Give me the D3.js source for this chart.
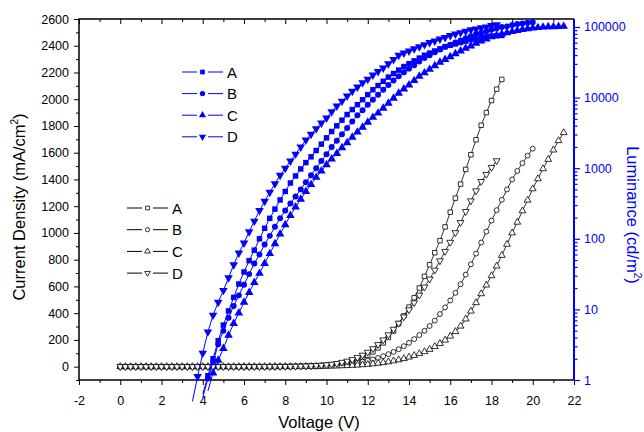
<!DOCTYPE html>
<html lang="en">
<head>
<meta charset="UTF-8" />
<title>Current density and luminance vs voltage</title>
<style>
  body { margin: 0; background: #fff; }
  svg { display: block; font-family: 'Liberation Sans', Arial, sans-serif; }
  .tick text { font-size: 12.5px; }
</style>
</head>
<body>
<svg width="644" height="432"></svg>
<script src="https://d3js.org/d3.v7.min.js"></script>
<script>
// --- data, current density in mA/cm2, luminance in cd/m2
const names = ["A", "B", "C", "D"];

const volts = [0,0.25,0.5,0.75,1,1.25,1.5,1.75,2,2.25,2.5,2.75,3,3.25,3.5,3.75,4,4.25,4.5,4.75,5,5.25,5.5,5.75,
  6,6.25,6.5,6.75,7,7.25,7.5,7.75,8,8.25,8.5,8.75,9,9.25,9.5,9.75,10,10.25,10.5,10.75,11,11.25,11.5,11.75,
  12,12.25,12.5,12.75,13,13.25,13.5,13.75,14,14.25,14.5,14.75,15,15.25,15.5,15.75,16,16.25,16.5,16.75,
  17,17.25,17.5,17.75,18,18.25,18.5,18.75,19,19.25,19.5,19.75,20,20.25,20.5,20.75,21,21.25,21.5];

const curA = [0,0,0,0,0,0,0,0,0,0,0,0,0,0,0,0,0,0,0,0,0,0,0,0,
  0.1,0.15,0.2,0.3,0.4,0.5,0.7,0.9,1.2,1.5,2,2.6,3.4,4.4,5.8,7.5,10,13,17,22,29,38,50,66,
  85,110,140,178,218,266,322,380,445,515,588,675,762,852,942,1045,1155,1260,1365,1475,
  1585,1697,1805,1900,1990,2075,2148];
const curB = [0,0,0,0,0,0,0,0,0,0,0,0,0,0,0,0,0,0,0,0,0,0,0,0,
  0.1,0.1,0.15,0.2,0.3,0.4,0.6,0.8,1,1.3,1.8,2.3,3,3.9,5,6.3,8,10,13,16,20,25,30,37,
  45,54,65,78,93,110,130,153,178,206,236,268,304,344,393,443,495,552,616,688,
  765,845,928,1010,1092,1170,1248,1325,1400,1463,1522,1578,1630];
const curC = [0,0,0,0,0,0,0,0,0,0,0,0,0,0,0,0,0,0,0,0,0,0,0,0,
  0,0,0,0,0.1,0.15,0.2,0.3,0.4,0.5,0.7,0.9,1.2,1.6,2,2.5,3.2,4,5,6.3,7.7,9.5,11.5,14,
  17,21,25,30,36,43,51,60,71,83,97,112,129,150,173,198,228,262,303,356,
  415,478,545,610,680,752,832,915,1000,1080,1165,1245,1330,1405,1480,1550,1620,1690,1750];
const curD = [0,0,0,0,0,0,0,0,0,0,0,0,0,0,0,0,0,0,0,0,0,0,0,0,
  0.1,0.15,0.2,0.3,0.4,0.5,0.7,1,1.3,1.8,2.5,3.3,4.5,6,8,10.5,14,18,24,32,41,53,68,86,
  108,134,165,200,238,280,325,372,425,478,535,595,655,722,792,862,930,1002,1078,1160,
  1240,1315,1385,1438,1490,1540];

const lumVolts = [3.5,3.75,4,4.25,4.5,4.75,5,5.25,5.5,5.75,
  6,6.25,6.5,6.75,7,7.25,7.5,7.75,8,8.25,8.5,8.75,9,9.25,9.5,9.75,10,10.25,10.5,10.75,11,11.25,11.5,11.75,
  12,12.25,12.5,12.75,13,13.25,13.5,13.75,14,14.25,14.5,14.75,15,15.25,15.5,15.75,16,16.25,16.5,16.75,
  17,17.25,17.5,17.75,18,18.25,18.5,18.75,19,19.25,19.5,19.75,20,20.25,20.5,20.75,21,21.25,21.5];

const lumA = [null,null,0.63,1.15,2.0,3.6,6.0,9.5,14.8,22.9,
  33.9,49,69,100,141,195,263,355,468,617,776,977,1200,1450,1780,2190,2690,3310,3980,4790,5750,6760,7940,9330,
  11000,12900,14800,17000,19500,21900,24500,27500,30200,33100,36300,39800,42700,45700,49000,52500,55000,57500,60300,63100,
  66100,67600,70800,72400,74100,75000,75900];
const lumB = [null,null,0.56,1.05,1.8,3.2,5.0,7.6,11.2,15.8,
  22.4,31.6,44.7,60,83,110,148,195,251,316,398,501,631,794,1000,1260,1580,2000,2450,3020,3720,4570,5620,6610,
  7940,9330,11000,12900,15100,17400,20000,22900,25700,28800,32400,36300,39800,43700,47900,52500,56200,60300,64600,69200,
  74100,79400,83200,87100,91200,95500,100000,102000,107000,110000,112000,115000,117000];
const lumC = [null,null,null,0.7,1.26,1.9,2.8,4.3,6.3,8.9,
  12.6,17.4,24,32.4,44.7,61.7,85,117,158,214,282,363,468,589,741,912,1120,1350,1620,1950,2290,2750,3240,3800,
  4470,5250,6030,7080,8320,9770,11500,13200,15100,17400,20000,22400,25100,28200,31600,34700,38000,41700,45700,50100,
  53700,58900,63100,67600,72400,76000,79500,83000,86000,89000,92000,94500,96500,98000,99500,100500,101000,101500,102000];
const lumD = [0.5,1.12,2.4,4.8,8.3,12.6,18.6,28,43,63,
  87,126,178,251,339,457,603,794,1000,1260,1580,2000,2510,3020,3630,4370,5130,6310,7590,8910,10500,12300,14100,16200,
  18200,20900,23400,26300,30200,34700,39800,42700,45700,49000,52500,56200,60300,63100,67600,70800,75900,79400,83200,87100,
  91200,93300,97700,100000,104700,107200];

const xTicks = [-2,0,2,4,6,8,10,12,14,16,18,20,22];
const yLTicks = [0,200,400,600,800,1000,1200,1400,1600,1800,2000,2200,2400,2600];
const yRTicks = [1,10,100,1000,10000,100000];

// --- layout
const svg = d3.select("svg");
const pl = 79, pr = 574, pt = 19, pb = 380;
const blue = "#0000ff";
const fmt = d => String(d);   // plain hyphen for negatives, like the original

const x = d3.scaleLinear().domain([-2, 22]).range([pl, pr]);
const yL = d3.scaleLinear().domain([-100, 2600]).range([pb, pt]);
const yR = d3.scaleLog().domain([1, Math.pow(10, 5.113)]).range([pb, pt]);

const xMinor = d3.range(-1, 22, 2);
const yLMinor = d3.range(-100, 2600, 200);
const yRMinor = [];
yRTicks.forEach(t => { for (let k = 2; k <= 9; k++) if (t * k <= yR.domain()[1]) yRMinor.push(t * k); });

function clean(g) { g.select(".domain").remove(); }

// bottom axis
svg.append("g").attr("transform", `translate(0,${pb})`)
  .call(d3.axisBottom(x).tickValues(xTicks).tickSize(5).tickPadding(11).tickFormat(fmt))
  .call(clean);
svg.append("g").attr("transform", `translate(0,${pb})`)
  .call(d3.axisBottom(x).tickValues(xMinor).tickSize(3).tickFormat(""))
  .call(clean);
// top axis (ticks inside)
svg.append("g").attr("transform", `translate(0,${pt})`)
  .call(d3.axisTop(x).tickValues(xTicks).tickSize(-5).tickFormat(""))
  .call(clean);
svg.append("g").attr("transform", `translate(0,${pt})`)
  .call(d3.axisTop(x).tickValues(xMinor).tickSize(-3).tickFormat(""))
  .call(clean);
// left axis
svg.append("g").attr("transform", `translate(${pl},0)`)
  .call(d3.axisLeft(yL).tickValues(yLTicks).tickSize(5).tickPadding(5).tickFormat(fmt))
  .call(clean);
svg.append("g").attr("transform", `translate(${pl},0)`)
  .call(d3.axisLeft(yL).tickValues(yLMinor).tickSize(3).tickFormat(""))
  .call(clean);
// right axis (log, blue)
const rAx = svg.append("g").attr("transform", `translate(${pr},0)`)
  .call(d3.axisRight(yR).tickValues(yRTicks).tickSize(6).tickPadding(4).tickFormat(fmt))
  .call(clean);
const rMin = svg.append("g").attr("transform", `translate(${pr},0)`)
  .call(d3.axisRight(yR).tickValues(yRMinor).tickSize(3.5).tickFormat(""))
  .call(clean);
svg.selectAll(".tick text").attr("fill", "#000");
[rAx, rMin].forEach(g => { g.selectAll("line").attr("stroke", blue).attr("stroke-width", 1.2); g.selectAll("text").attr("fill", blue); });

// frame
svg.append("path").attr("d", `M${pr},${pt}H${pl}V${pb}H${pr}`)
  .attr("fill", "none").attr("stroke", "#000").attr("stroke-width", 1.5);
svg.append("line").attr("x1", pr).attr("x2", pr).attr("y1", pt).attr("y2", pb)
  .attr("stroke", blue).attr("stroke-width", 2);

// axis titles
svg.append("text").attr("x", 319).attr("y", 428).attr("text-anchor", "middle")
  .attr("font-size", 16.5).text("Voltage (V)");
const lt = svg.append("text").attr("transform", "translate(25,207) rotate(-90)")
  .attr("text-anchor", "middle").attr("font-size", 16.5);
lt.append("tspan").text("Current Density (mA/cm");
lt.append("tspan").attr("font-size", 10).attr("dy", -7).text("2");
lt.append("tspan").attr("dy", 7).text(")");
const rt = svg.append("text").attr("transform", "translate(627,215) rotate(90)")
  .attr("text-anchor", "middle").attr("font-size", 16.5).attr("fill", blue);
rt.append("tspan").text("Luminance (cd/m");
rt.append("tspan").attr("font-size", 10).attr("dy", -7).text("2");
rt.append("tspan").attr("dy", 7).text(")");

// --- series
const shapes = [d3.symbolSquare, d3.symbolCircle, d3.symbolTriangle, d3.symbolTriangle];
const rots = [0, 0, 0, 180];
const curs = [curA, curB, curC, curD];
const lums = [lumA, lumB, lumC, lumD];
const openSize = [20, 19, 20, 20];
const fillSize = [30, 28, 32, 32];

const jLine = d3.line().x(d => x(d.v)).y(d => yL(d.j));
const lLine = d3.line().x(d => x(d.v)).y(d => yR(d.l));

names.forEach((n, i) => {
  const pts = curs[i].map((j, k) => ({ v: volts[k], j }));
  svg.append("path").datum(pts).attr("d", jLine)
    .attr("fill", "none").attr("stroke", "#000").attr("stroke-width", 0.8);
  svg.append("g").selectAll("path").data(pts).join("path")
    .attr("transform", d => `translate(${x(d.v)},${yL(d.j)}) rotate(${rots[i]})`)
    .attr("d", d3.symbol(shapes[i], openSize[i]))
    .attr("fill", "#fff").attr("stroke", "#000").attr("stroke-width", 0.8);
});

names.forEach((n, i) => {
  const pts = lums[i].map((l, k) => ({ v: lumVolts[k], l })).filter(d => d.l != null);
  svg.append("path").datum(pts).attr("d", lLine)
    .attr("fill", "none").attr("stroke", blue).attr("stroke-width", 1);
  svg.append("g").selectAll("path").data(pts.filter(d => d.l >= 1)).join("path")
    .attr("transform", d => `translate(${x(d.v)},${yR(d.l)}) rotate(${rots[i]})`)
    .attr("d", d3.symbol(shapes[i], fillSize[i]))
    .attr("fill", blue);
});

// --- legends
function legend(x0, y0, dy, color, filled) {
  names.forEach((n, i) => {
    const g = svg.append("g").attr("transform", `translate(${x0},${y0 + i * dy})`);
    g.append("line").attr("x1", 0).attr("x2", 15).attr("stroke", color).attr("stroke-width", 1);
    g.append("line").attr("x1", 26).attr("x2", 41).attr("stroke", color).attr("stroke-width", 1);
    g.append("path").attr("transform", `translate(20.5,0) rotate(${rots[i]})`)
      .attr("d", d3.symbol(shapes[i], filled ? 22 : 14))
      .attr("fill", filled ? color : "#fff").attr("stroke", filled ? "none" : color).attr("stroke-width", 0.8);
    g.append("text").attr("x", 45).attr("y", 5.5).attr("font-size", 15).attr("fill", "#000").text(n);
  });
}
legend(182, 72, 21.6, blue, true);
legend(127, 208, 21.7, "#000", false);
</script>
</body>
</html>
